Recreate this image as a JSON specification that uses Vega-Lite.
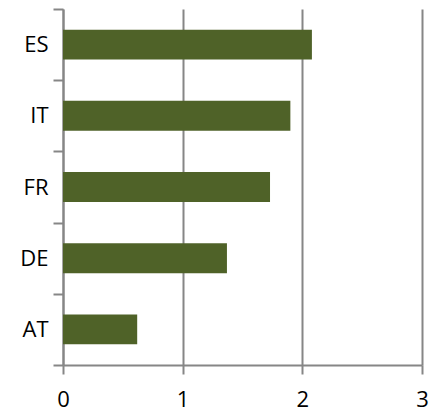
{
  "$schema": "https://vega.github.io/schema/vega-lite/v6.json",
  "width": 359,
  "height": 356,
  "autosize": {"type": "none"},
  "padding": {"left": 63, "top": 9, "right": 8, "bottom": 47},
  "background": "white",
  "config": {"view": {"stroke": null}},
  "data": {"values": [
    {"country": "ES", "value": 2.08},
    {"country": "IT", "value": 1.90},
    {"country": "FR", "value": 1.73},
    {"country": "DE", "value": 1.37},
    {"country": "AT", "value": 0.62}
  ]},
  "mark": {"type": "bar", "color": "#4F6228", "height": {"band": 0.42}},
  "encoding": {
    "y": {
      "field": "country", "type": "nominal", "sort": null,
      "scale": {"paddingInner": 0, "paddingOuter": 0},
      "axis": {
        "title": null, "tickBand": "extent", "grid": false,
        "domainColor": "#868686", "domainWidth": 2,
        "tickColor": "#868686", "tickWidth": 2, "tickSize": 10,
        "labelFont": "Open Sans", "labelFontSize": 22, "labelColor": "black",
        "labelPadding": 5
      }
    },
    "x": {
      "field": "value", "type": "quantitative",
      "scale": {"domain": [0, 3], "nice": false},
      "axis": {
        "title": null, "values": [0, 1, 2, 3], "format": "d",
        "grid": true, "gridColor": "#868686", "gridWidth": 2,
        "domainColor": "#868686", "domainWidth": 2,
        "tickColor": "#868686", "tickWidth": 2, "tickSize": 9,
        "labelFont": "Open Sans", "labelFontSize": 22, "labelColor": "black",
        "labelPadding": 15, "labelFlush": false
      }
    }
  }
}
